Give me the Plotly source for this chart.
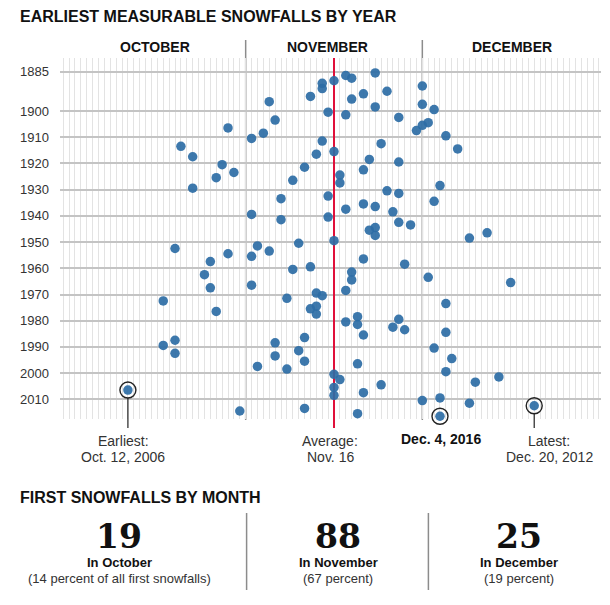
import plotly.graph_objects as go
from datetime import datetime

# ---------------- data ----------------
years = list(range(1885, 2017))
first_snow = [
    "Nov 23", "Nov 18", "Nov 19", "Nov 16", "Nov 14", "Dec 1", "Nov 14", "Nov 25", "Nov 21", "Nov 12",  # 1885-1894
    "Nov 19", "Nov 5", "Dec 1", "Nov 23", "Dec 3", "Nov 15", "Nov 18", "Nov 27", "Nov 6", "Dec 2",    # 1895-1904
    "Dec 1", "Oct 29", "Nov 30", "Nov 4", "Dec 5", "Nov 2", "Nov 14", "Nov 24", "Oct 21", "Dec 7",     # 1905-1914
    "Nov 16", "Nov 13", "Oct 23", "Nov 22", "Nov 27", "Oct 28", "Nov 11", "Nov 21", "Oct 30", "Nov 17", # 1915-1924
    "Oct 27", "Nov 9", "Nov 17", "Dec 4", "Oct 23", "Nov 25", "Nov 27", "Nov 15", "Nov 7", "Dec 3",    # 1925-1934
    "Nov 21", "Nov 23", "Nov 18", "Nov 26", "Nov 2", "Nov 15", "Nov 7", "Nov 27", "Nov 29", "Nov 23",  # 1935-1944
    "Nov 22", "Dec 12", "Nov 23", "Dec 9", "Nov 16", "Nov 10", "Nov 3", "Oct 20", "Nov 5", "Oct 29",   # 1945-1954
    "Nov 2", "Nov 21", "Oct 26", "Nov 28", "Nov 12", "Nov 9", "Nov 19", "Oct 25", "Dec 2", "Nov 19",   # 1955-1964
    "Dec 16", "Nov 2", "Oct 26", "Nov 18", "Nov 13", "Nov 14", "Nov 8", "Oct 18", "Dec 5", "Nov 13",   # 1965-1974
    "Nov 12", "Oct 27", "Nov 13", "Nov 20", "Nov 27", "Nov 18", "Nov 20", "Nov 26", "Nov 28", "Dec 5", # 1975-1984
    "Nov 21", "Nov 11", "Oct 20", "Nov 6", "Oct 18", "Dec 3", "Nov 10", "Oct 20", "Nov 6", "Dec 6",    # 1985-1994
    "Nov 11", "Nov 20", "Nov 3", "Nov 8", "Dec 5", "Nov 16", "Dec 14", "Nov 17", "Dec 10", "Nov 24",   # 1995-2004
    "Nov 16", "Oct 12", "Nov 21", "Nov 16", "Dec 4", "Dec 1", "Dec 9", "Dec 20", "Nov 11", "Oct 31",   # 2005-2014
    "Nov 20", "Dec 4",                                                                                 # 2015-2016
]
ytick_years = [1885, 1900, 1910, 1920, 1930, 1940, 1950, 1960, 1970, 1980, 1990, 2000, 2010]
month_names_upper = ["OCTOBER", "NOVEMBER", "DECEMBER"]
month_start_days = ["Nov 1", "Dec 1"]
average_day = "Nov 16"
average_label = ["Average:", "Nov. 16"]
earliest_year, latest_year, current_year = 2006, 2012, 2016
earliest_label = ["Earliest:", "Oct. 12, 2006"]
latest_label = ["Latest:", "Dec. 20, 2012"]
current_label = "Dec. 4, 2016"
month_counts = [19, 88, 25]
month_in_labels = ["In October", "In November", "In December"]
month_pct_labels = ["(14 percent of all first snowfalls)", "(67 percent)", "(19 percent)"]

# ---------------- helpers ----------------
def to_date(s):
    return datetime.strptime(s + " 2000", "%b %d %Y")

# The page body has an 8px margin: figure occupies (8..610, 8..605) of the window
BODY = 8
W, H = 610 - BODY, 605 - BODY
PL, PR, PT, PB = 60, 601, 58, 419          # plot area in window pixels
ML, MR, MT, MB = PL - BODY, 610 - PR, PT - BODY, 605 - PB
PW, PH = PR - PL, PB - PT
Y_RANGE = [2017.5, 1879.77]                # reversed: bottom, top
X_RANGE = ["2000-09-30 11:14", "2000-12-31 08:14"]
Y_OFF = 0.45                               # dot sits inside its year band

def px_y(py):   # window pixel -> paper y
    return (PB - py) / PH

def px_x(px):   # window pixel -> paper x
    return (px - PL) / PW

def data_y_paper(v):
    return (Y_RANGE[0] - v) / (Y_RANGE[0] - Y_RANGE[1])

xs = [to_date(s) for s in first_snow]
ys = [y + Y_OFF for y in years]

FONT = "Liberation Sans, Arial, Helvetica, sans-serif"
DOT = "rgb(44,109,165)"
RED = "#e0103a"
TXT = "#333333"

fig = go.Figure()

# average line inside the plot (drawn under the dots)
avg = to_date(average_day)
fig.add_trace(go.Scatter(
    x=[avg, avg], y=[Y_RANGE[0], Y_RANGE[1]], mode="lines",
    line=dict(color=RED, width=2), hoverinfo="skip", showlegend=False))

# dots
fig.add_trace(go.Scatter(
    x=xs, y=ys, mode="markers",
    marker=dict(size=9.5, color=DOT, opacity=0.92, line=dict(width=0)),
    cliponaxis=False, hoverinfo="skip", showlegend=False))

# highlight rings
hl_years = [earliest_year, latest_year, current_year]
hl_x = [xs[years.index(y)] for y in hl_years]
hl_y = [ys[years.index(y)] for y in hl_years]
fig.add_trace(go.Scatter(
    x=hl_x, y=hl_y, mode="markers",
    marker=dict(size=16, symbol="circle-open", color="#222222", line=dict(width=1.4)),
    cliponaxis=False, hoverinfo="skip", showlegend=False))

shapes = []
# month boundary lines
for m in month_start_days:
    d = to_date(m)
    shapes.append(dict(type="line", xref="x", yref="paper", x0=d, x1=d,
                       y0=px_y(420), y1=px_y(40), layer="below",
                       line=dict(color="#8c8c8c", width=1.5)))
# average line tail below the plot
shapes.append(dict(type="line", xref="x", yref="paper", x0=avg, x1=avg,
                   y0=px_y(428), y1=0, layer="above",
                   line=dict(color=RED, width=2)))
# leader lines for earliest & latest
for yr in [earliest_year, latest_year]:
    i = years.index(yr)
    shapes.append(dict(type="line", xref="x", yref="paper", x0=xs[i], x1=xs[i],
                       y0=px_y(428), y1=data_y_paper(ys[i]) - 8 / PH, layer="above",
                       line=dict(color="#222222", width=1.2)))
# bottom separators
for sx in [246.6, 428.4]:
    shapes.append(dict(type="line", xref="paper", yref="paper", x0=px_x(sx), x1=px_x(sx),
                       y0=px_y(590), y1=px_y(513), line=dict(color="#8c8c8c", width=1.5)))

ann = []
# titles
ann.append(dict(text="<b>EARLIEST MEASURABLE SNOWFALLS BY YEAR</b>", xref="paper", yref="paper",
                x=px_x(18), y=px_y(17), xanchor="left", yanchor="middle", showarrow=False,
                font=dict(family=FONT, size=16, color="#111111")))
ann.append(dict(text="<b>FIRST SNOWFALLS BY MONTH</b>", xref="paper", yref="paper",
                x=px_x(18), y=px_y(497), xanchor="left", yanchor="middle", showarrow=False,
                font=dict(family=FONT, size=16, color="#111111")))
# month headers
for name, cx in zip(month_names_upper, [155, 327, 512]):
    ann.append(dict(text=f"<b>{name}</b>", xref="paper", yref="paper", x=px_x(cx), y=px_y(47),
                    xanchor="center", yanchor="middle", showarrow=False,
                    font=dict(family=FONT, size=14, color="#111111")))
# bottom labels
def two_line(lines, cx):
    for t, py in zip(lines, [441, 457]):
        ann.append(dict(text=t, xref="paper", yref="paper", x=px_x(cx), y=px_y(py),
                        xanchor="center", yanchor="middle", showarrow=False,
                        font=dict(family=FONT, size=14, color=TXT)))
two_line(earliest_label, 123)
two_line(average_label, 330)
two_line(latest_label, 549)
ann.append(dict(text=f"<b>{current_label}</b>", xref="paper", yref="paper", x=px_x(441), y=px_y(439),
                xanchor="center", yanchor="middle", showarrow=False,
                font=dict(family=FONT, size=14, color="#111111")))
# month summary
for cnt, lab, pct, cx in zip(month_counts, month_in_labels, month_pct_labels, [119, 338, 519]):
    ann.append(dict(text=f"<b>{cnt}</b>", xref="paper", yref="paper", x=px_x(cx), y=px_y(536),
                    xanchor="center", yanchor="middle", showarrow=False,
                    font=dict(family="DejaVu Serif, Georgia, serif", size=33, color="#111111")))
    ann.append(dict(text=f"<b>{lab}</b>", xref="paper", yref="paper", x=px_x(cx), y=px_y(562),
                    xanchor="center", yanchor="middle", showarrow=False,
                    font=dict(family=FONT, size=13, color="#111111")))
    ann.append(dict(text=pct, xref="paper", yref="paper", x=px_x(cx), y=px_y(578),
                    xanchor="center", yanchor="middle", showarrow=False,
                    font=dict(family=FONT, size=13, color=TXT)))

fig.update_layout(
    width=W, height=H,
    margin=dict(l=ML, r=MR, t=MT, b=MB, pad=0),
    paper_bgcolor="white", plot_bgcolor="white",
    shapes=shapes, annotations=ann,
    xaxis=dict(type="date", range=X_RANGE, tick0="2000-10-01", dtick=86400000,
               showgrid=True, gridcolor="#e3e3e3", gridwidth=1,
               showticklabels=False, ticks="", zeroline=False, showline=False, fixedrange=True),
    yaxis=dict(range=Y_RANGE, tickmode="array", tickvals=ytick_years,
               ticktext=[str(t) for t in ytick_years],
               showgrid=True, gridcolor="#c4c4c4", gridwidth=1.5,
               zeroline=False, showline=False, ticks="", ticklabelstandoff=10,
               tickfont=dict(family=FONT, size=13, color=TXT), fixedrange=True),
    showlegend=False,
)

fig.write_html("out.html")
